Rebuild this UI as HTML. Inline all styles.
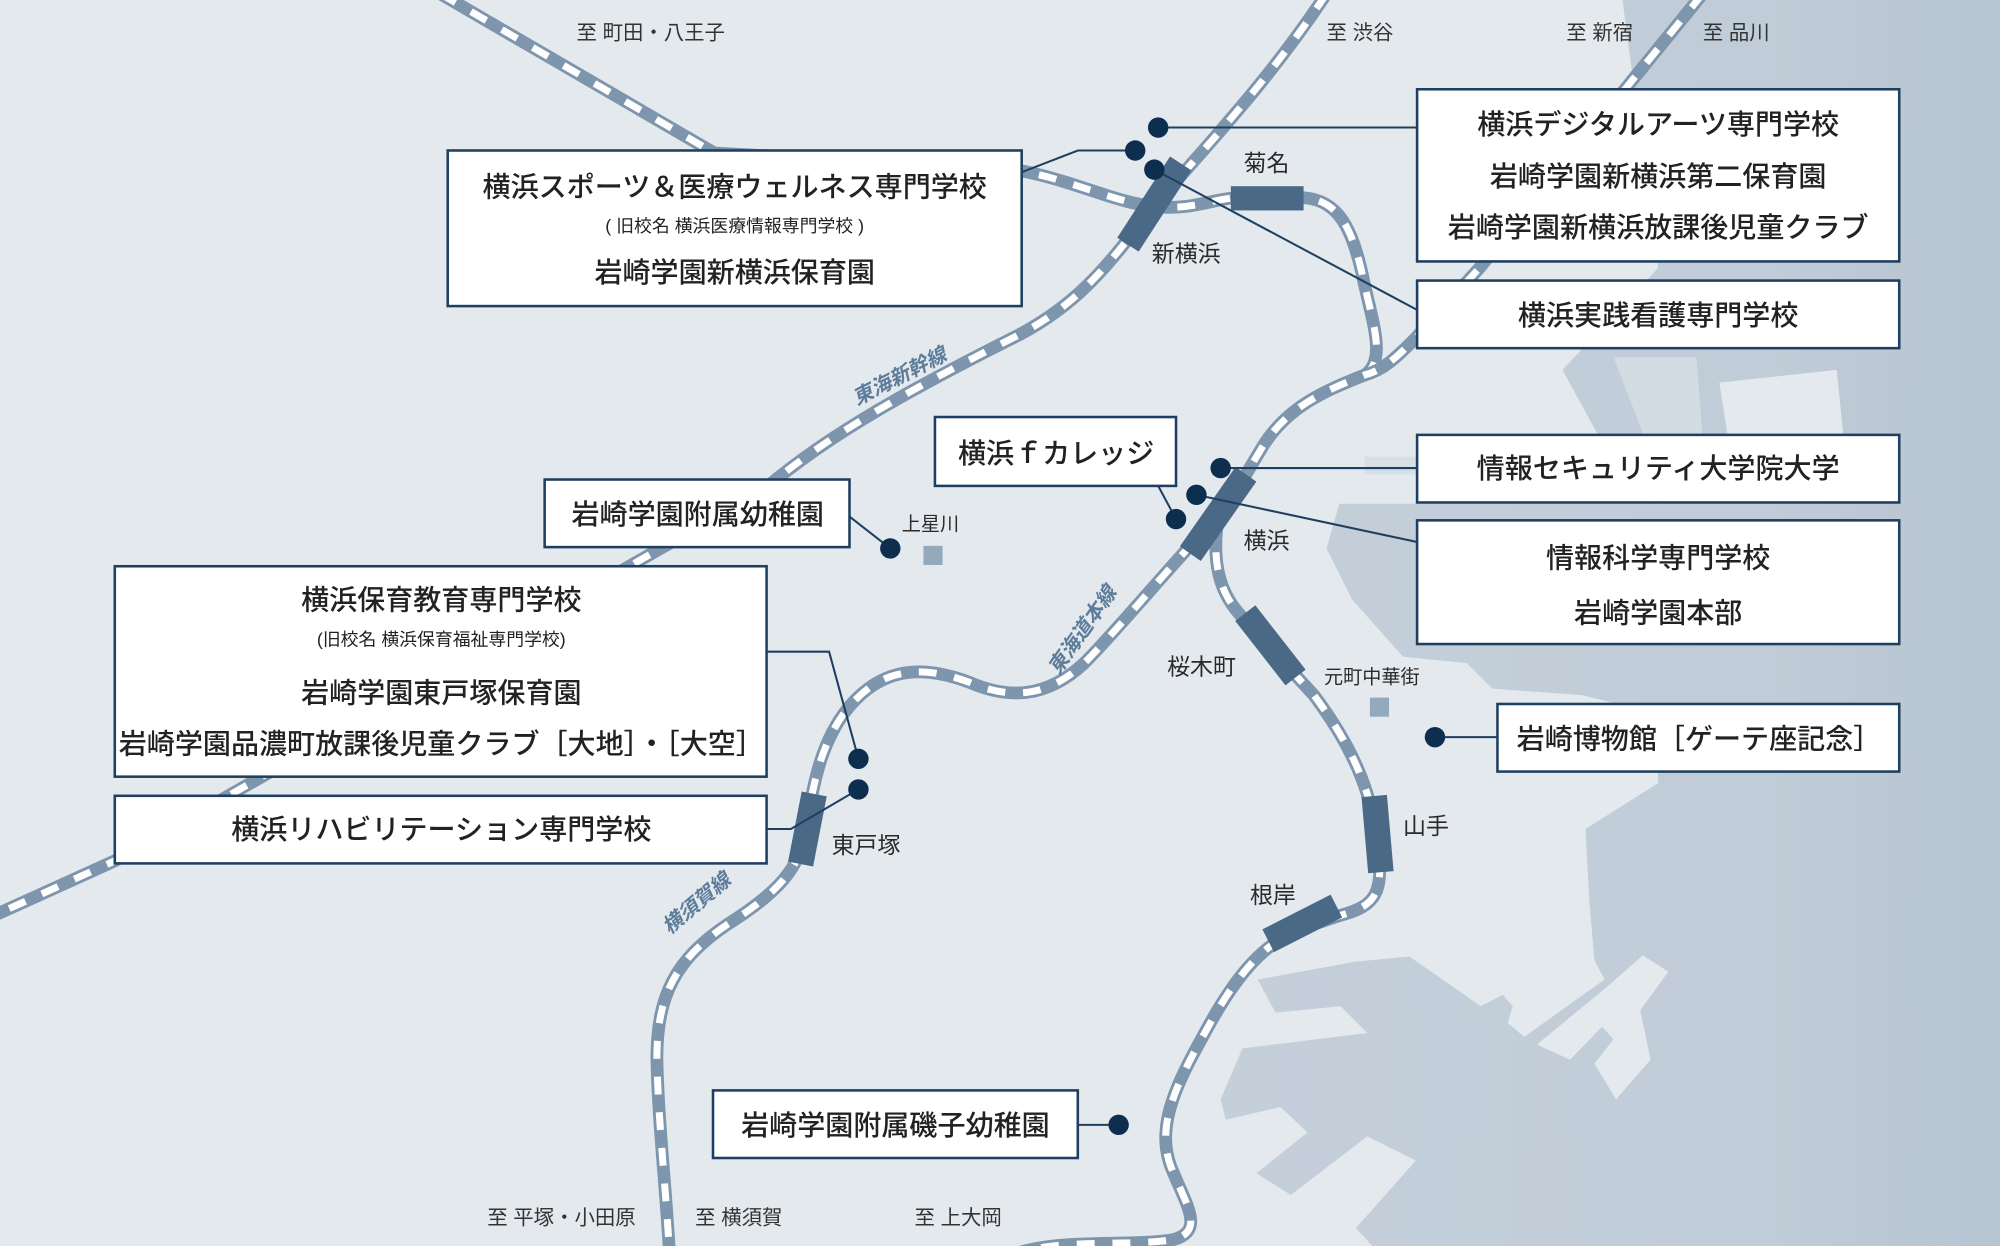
<!DOCTYPE html>
<html><head><meta charset="utf-8"><style>
html,body{margin:0;padding:0;background:#e4e9ee;}
svg{display:block;}
text{font-family:"Liberation Sans","Noto Sans CJK JP",sans-serif;}
.bx{fill:#fff;stroke:#1f3f60;stroke-width:2;}
.t{font-size:22px;fill:#222;text-anchor:middle;font-weight:500;}
.s{font-size:14px;fill:#222;text-anchor:middle;}
.st{font-size:18px;fill:#2a2a2a;}
.dir{font-size:16px;fill:#333;}
.ln{font-size:16px;fill:#5d7d9a;font-style:italic;font-weight:bold;}
.rb{fill:none;stroke:#7d95ad;stroke-width:10;}
.rw{fill:none;stroke:#fff;stroke-width:5.5;stroke-dasharray:14 14;}
.cn{fill:none;stroke:#1f3f60;stroke-width:1.6;}
.dt{fill:#0d2e4f;}
.sta{fill:#4a6987;}
</style></head><body>
<svg width="2000" height="1246" viewBox="0 0 1568 977" preserveAspectRatio="none" xmlns="http://www.w3.org/2000/svg">
<defs><linearGradient id="sg" x1="0" y1="0" x2="1" y2="0"><stop offset="0" stop-color="#c4cfda"/><stop offset="0.7" stop-color="#c0ccd7"/><stop offset="1" stop-color="#b7c5d2"/></linearGradient></defs>
<rect width="1568" height="977" fill="#e4e9ee"/>
<path fill="url(#sg)" d="M1272,0 L1568,0 L1568,977 L1076,977 L1063,963 L1110,910 L1072,891 L1012,937 L985,920 L1025,888 L1004,868 L961,878 L957,862 L974,822 L1072,810 L1051,789 L1000,794 L986,768 L1063,754 L1105,750 L1161,789 L1178,780 L1186,789 L1182,802 L1195,813 L1258,768 L1250,753 L1246,706 L1243,650 L1300,614 L1300,560 L1240,545 L1170,540 L1150,520 L1100,515 L1060,470 L1040,430 L1050,395 L1130,395 L1170,345 L1255,345 L1225,290 L1240,274 L1300,210 Z"/>
<path fill="#e4e9ee" d="M1288,749 L1308,762 L1286,792 L1294,831 L1267,862 L1250,834 L1265,815 L1256,805 L1231,831 L1205,819 L1262,772 Z"/>
<path fill="#e4e9ee" d="M1348,300 L1440,290 L1445,340 L1355,345 Z"/>
<path fill="#d3dbe3" d="M1265,280 L1330,280 L1335,345 L1290,345 Z"/>
<path fill="#d6dee6" d="M1070,358 L1110,358 L1110,372 L1070,372 Z"/>
<g>
<path class="rb" d="M345,-5 L560,120 L790,132 C840,140 870,158 905,162 C935,165 950,156 970,155 L1022,155 C1050,157 1060,180 1068,215 C1075,250 1088,282 1070,294 C1040,306 1010,318 990,350 L960,400"/>
<path class="rw" d="M345,-5 L560,120 L790,132 C840,140 870,158 905,162 C935,165 950,156 970,155 L1022,155 C1050,157 1060,180 1068,215 C1075,250 1088,282 1070,294 C1040,306 1010,318 990,350 L960,400"/>
<path class="rb" d="M1335,-5 L1160,210 L1110,265 C1095,280 1085,290 1070,294"/>
<path class="rw" d="M1335,-5 L1160,210 L1110,265 C1095,280 1085,290 1070,294"/>
<path class="rb" d="M1040,-5 C990,70 940,120 905,162 C870,205 850,235 800,262 C720,302 650,340 600,383 L90,675 L-5,718"/>
<path class="rw" d="M1040,-5 C990,70 940,120 905,162 C870,205 850,235 800,262 C720,302 650,340 600,383 L90,675 L-5,718"/>
<path class="rb" d="M955,405 C950,440 955,465 975,485 L1030,545 C1060,585 1075,620 1080,660 C1085,700 1080,710 1050,718 L1020,728 C990,740 970,765 950,800 C925,845 905,880 918,915 C930,945 945,965 920,972 C880,978 830,970 790,985"/>
<path class="rw" d="M955,405 C950,440 955,465 975,485 L1030,545 C1060,585 1075,620 1080,660 C1085,700 1080,710 1050,718 L1020,728 C990,740 970,765 950,800 C925,845 905,880 918,915 C930,945 945,965 920,972 C880,978 830,970 790,985"/>
<path class="rb" d="M955,405 C920,440 880,490 850,520 C820,548 790,548 760,535 C720,520 690,525 665,555 C645,580 638,610 632,650 C628,680 610,700 570,725 C530,752 515,780 515,830 C516,880 522,930 525,985"/>
<path class="rw" d="M955,405 C920,440 880,490 850,520 C820,548 790,548 760,535 C720,520 690,525 665,555 C645,580 638,610 632,650 C628,680 610,700 570,725 C530,752 515,780 515,830 C516,880 522,930 525,985"/>
</g>
<rect class="sta" x="965" y="146" width="57" height="19"/>
<rect class="sta" x="-38" y="-10" width="76" height="20" transform="translate(905,160) rotate(-57)"/>
<rect class="sta" x="-38" y="-10" width="76" height="20" transform="translate(955,403) rotate(-55)"/>
<rect class="sta" x="-32" y="-10" width="64" height="20" transform="translate(996,506) rotate(52)"/>
<rect class="sta" x="-30" y="-10" width="60" height="20" transform="translate(1080,654) rotate(85)"/>
<rect class="sta" x="-30" y="-10" width="60" height="20" transform="translate(1021,724) rotate(-27)"/>
<rect class="sta" x="-28" y="-10" width="56" height="20" transform="translate(633,650) rotate(-79)"/>
<rect fill="#94a9bc" x="724" y="428" width="15" height="15"/>
<rect fill="#94a9bc" x="1074" y="547" width="15" height="15"/>
<text class="dir" x="452" y="31">至 町田・八王子</text>
<text class="dir" x="1040" y="31">至 渋谷</text>
<text class="dir" x="1228" y="31">至 新宿</text>
<text class="dir" x="1335" y="31">至 品川</text>
<text class="dir" x="382" y="960">至 平塚・小田原</text>
<text class="dir" x="545" y="960">至 横須賀</text>
<text class="dir" x="717" y="960">至 上大岡</text>
<text class="st" x="975" y="134">菊名</text>
<text class="st" x="903" y="205">新横浜</text>
<text class="st" x="975" y="430">横浜</text>
<text class="st" x="915" y="529">桜木町</text>
<text class="st" x="1038" y="536" style="font-size:15px">元町中華街</text>
<text class="st" x="1100" y="654">山手</text>
<text class="st" x="980" y="708">根岸</text>
<text class="st" x="652" y="669">東戸塚</text>
<text class="st" x="707" y="416" style="font-size:15px">上星川</text>
<text class="ln" transform="translate(672,318) rotate(-27)">東海新幹線</text>
<text class="ln" transform="translate(830,530) rotate(-55)">東海道本線</text>
<text class="ln" transform="translate(525,733) rotate(-40)">横須賀線</text>
<path class="cn" d="M908,100 L1111,100"/>
<path class="cn" d="M801,135 L845,118 L890,118"/>
<path class="cn" d="M905,133 L1111,243"/>
<path class="cn" d="M957,367 L1111,367"/>
<path class="cn" d="M938,388 L1111,425"/>
<path class="cn" d="M922,407 L908,381"/>
<path class="cn" d="M698,430 L666,405"/>
<path class="cn" d="M601,511 L650,511 L673,595"/>
<path class="cn" d="M601,650 L620,650 L673,619"/>
<path class="cn" d="M1125,578 L1174,578"/>
<path class="cn" d="M877,882 L845,882"/>
<g class="dt">
<circle cx="908" cy="100" r="8"/><circle cx="890" cy="118" r="8"/><circle cx="905" cy="133" r="8"/>
<circle cx="957" cy="367" r="8"/><circle cx="938" cy="388" r="8"/><circle cx="922" cy="407" r="8"/>
<circle cx="698" cy="430" r="8"/><circle cx="673" cy="595" r="8"/><circle cx="673" cy="619" r="8"/>
<circle cx="1125" cy="578" r="8"/><circle cx="877" cy="882" r="8"/>
</g>
<rect class="bx" x="351" y="118" width="450" height="122"/>
<text class="t" x="576" y="154">横浜スポーツ＆医療ウェルネス専門学校</text>
<text class="s" x="576" y="182">( 旧校名 横浜医療情報専門学校 )</text>
<text class="t" x="576" y="221">岩崎学園新横浜保育園</text>
<rect class="bx" x="1111" y="70" width="378" height="135"/>
<text class="t" x="1300" y="105">横浜デジタルアーツ専門学校</text>
<text class="t" x="1300" y="146">岩崎学園新横浜第二保育園</text>
<text class="t" x="1300" y="186">岩崎学園新横浜放課後児童クラブ</text>
<rect class="bx" x="1111" y="220" width="378" height="53"/>
<text class="t" x="1300" y="255">横浜実践看護専門学校</text>
<rect class="bx" x="733" y="327" width="189" height="54"/>
<text class="t" x="828" y="363">横浜ｆカレッジ</text>
<rect class="bx" x="427" y="376" width="239" height="53"/>
<text class="t" x="547" y="411">岩崎学園附属幼稚園</text>
<rect class="bx" x="1111" y="341" width="378" height="53"/>
<text class="t" x="1300" y="375">情報セキュリティ大学院大学</text>
<rect class="bx" x="1111" y="408" width="378" height="97"/>
<text class="t" x="1300" y="445">情報科学専門学校</text>
<text class="t" x="1300" y="488">岩崎学園本部</text>
<rect class="bx" x="90" y="444" width="511" height="165"/>
<text class="t" x="346" y="478">横浜保育教育専門学校</text>
<text class="s" x="346" y="506">(旧校名 横浜保育福祉専門学校)</text>
<text class="t" x="346" y="551">岩崎学園東戸塚保育園</text>
<text class="t" x="346" y="591">岩崎学園品濃町放課後児童クラブ［大地］・［大空］</text>
<rect class="bx" x="90" y="624" width="511" height="53"/>
<text class="t" x="346" y="658">横浜リハビリテーション専門学校</text>
<rect class="bx" x="1174" y="552" width="315" height="53"/>
<text class="t" x="1332" y="587">岩崎博物館［ゲーテ座記念］</text>
<rect class="bx" x="559" y="855" width="286" height="53"/>
<text class="t" x="702" y="890">岩崎学園附属磯子幼稚園</text>
</svg>
</body></html>
